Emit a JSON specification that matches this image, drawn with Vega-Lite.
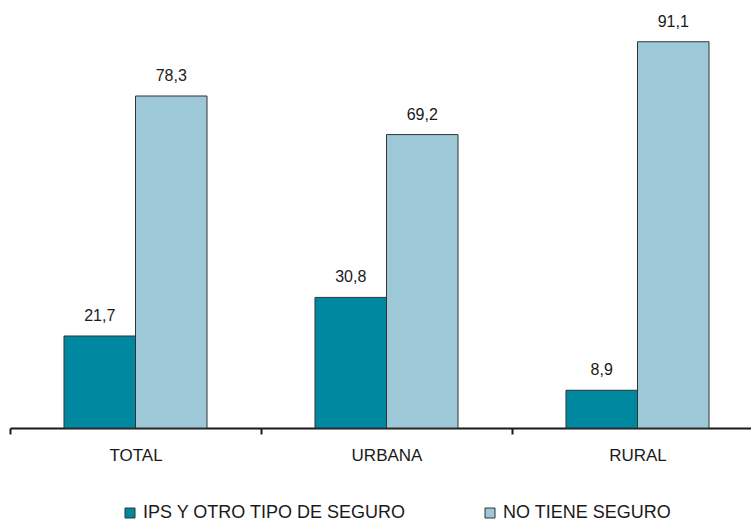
{
  "$schema": "https://vega.github.io/schema/vega-lite/v6.json",
  "width": 741,
  "height": 424,
  "autosize": {"type": "none"},
  "padding": {"left": 10, "top": 4, "right": 0, "bottom": 93},
  "background": "white",
  "config": {"view": {"stroke": null}, "font": "Liberation Sans"},
  "data": {"values": [
    {"area": "TOTAL", "serie": "IPS Y OTRO TIPO DE SEGURO", "valor": 21.7, "label": "21,7"},
    {"area": "TOTAL", "serie": "NO TIENE SEGURO", "valor": 78.3, "label": "78,3"},
    {"area": "URBANA", "serie": "IPS Y OTRO TIPO DE SEGURO", "valor": 30.8, "label": "30,8"},
    {"area": "URBANA", "serie": "NO TIENE SEGURO", "valor": 69.2, "label": "69,2"},
    {"area": "RURAL", "serie": "IPS Y OTRO TIPO DE SEGURO", "valor": 8.9, "label": "8,9"},
    {"area": "RURAL", "serie": "NO TIENE SEGURO", "valor": 91.1, "label": "91,1"}
  ]},
  "encoding": {
    "x": {"field": "area", "type": "nominal", "sort": ["TOTAL", "URBANA", "RURAL"],
      "scale": {"range": [0, 753], "paddingInner": 0, "paddingOuter": 0},
      "axis": {"title": null, "labelAngle": 0, "labelFontSize": 17, "labelColor": "#1a1a1a",
        "labelPadding": 13, "domainColor": "#1a1a1a", "domainWidth": 2, "tickColor": "#1a1a1a",
        "tickWidth": 2, "tickSize": 6, "tickBand": "extent", "labelFont": "Liberation Sans"}},
    "xOffset": {"field": "serie", "type": "nominal",
      "sort": ["IPS Y OTRO TIPO DE SEGURO", "NO TIENE SEGURO"],
      "scale": {"paddingInner": 0, "paddingOuter": 0.755}},
    "y": {"field": "valor", "type": "quantitative", "scale": {"domain": [0, 100], "nice": false},
      "axis": null}
  },
  "layer": [
    {
      "mark": {"type": "bar", "stroke": "#333333", "strokeWidth": 1},
      "encoding": {
        "color": {"field": "serie", "type": "nominal",
          "scale": {"domain": ["IPS Y OTRO TIPO DE SEGURO", "NO TIENE SEGURO"], "range": ["#0088A0", "#9DC8D7"]},
          "legend": {"title": null, "orient": "none", "legendX": 111, "legendY": 500,
            "direction": "horizontal", "symbolType": "square", "symbolSize": 100,
            "symbolStrokeColor": "#333333", "symbolStrokeWidth": 1, "labelFontSize": 18,
            "labelColor": "#1a1a1a", "labelLimit": 400, "columnPadding": 74, "labelOffset": 4}}
      }
    },
    {
      "mark": {"type": "text", "baseline": "bottom", "dy": -12, "fontSize": 16, "color": "#1a1a1a"},
      "encoding": {"text": {"field": "label"}}
    }
  ]
}
